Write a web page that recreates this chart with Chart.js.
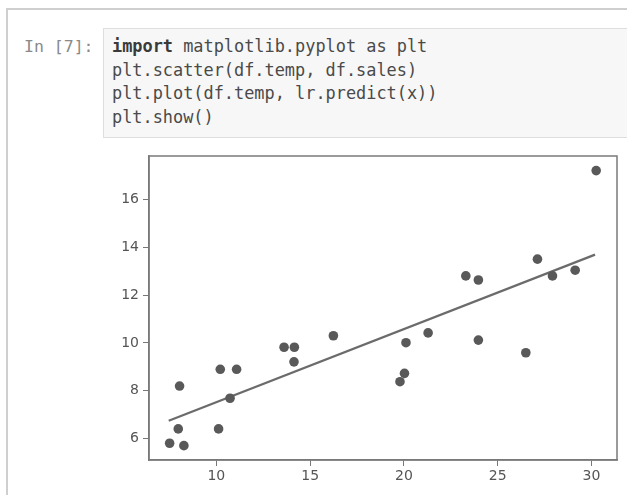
<!DOCTYPE html>
<html>
<head>
<meta charset="utf-8">
<script src="https://cdn.jsdelivr.net/npm/chart.js@4/dist/chart.umd.min.js"></script>
<style>
  html, body { margin:0; padding:0; width:627px; height:495px; background:#fff; overflow:hidden; }
  #frame { position:absolute; left:6px; top:8px; width:640px; height:500px; border-left:2px solid #cfcfcf; border-top:2px solid #cfcfcf; box-sizing:border-box; }
  #prompt { position:absolute; left:24px; top:35px; font-family:"DejaVu Sans Mono", monospace; font-size:16.5px; line-height:23.5px; color:#8a8a8a; }
  #cell { position:absolute; left:103px; top:28px; width:600px; height:110px; background:#f7f7f7; border:1px solid #dedede; box-sizing:border-box; }
  #code { position:absolute; left:112px; top:35px; margin:0; font-family:"DejaVu Sans Mono", monospace; font-size:16.9px; line-height:23.5px; color:#4a4a4a; white-space:pre; }
  #code b { font-weight:bold; color:#3a3a3a; }
  #wrap { position:absolute; left:0; top:0; width:627px; height:495px; }
</style>
</head>
<body>
<div id="frame"></div>
<div id="cell"></div>
<div id="prompt">In [7]:</div>
<pre id="code"><b>import</b> matplotlib.pyplot as plt
plt.scatter(df.temp, df.sales)
plt.plot(df.temp, lr.predict(x))
plt.show()</pre>
<div id="wrap"><canvas id="c" width="627" height="495"></canvas></div>
<script>
// Data
const temps = [7.51, 8.27, 7.97, 8.04, 10.12, 10.21, 10.73, 11.08, 13.61, 14.16, 14.14, 16.24,
               19.79, 20.03, 20.11, 21.29, 23.30, 23.97, 23.97, 26.50, 27.12, 27.92, 29.13, 30.25];
const sales = [5.81, 5.71, 6.41, 8.20, 6.41, 8.90, 7.69, 8.90, 9.82, 9.82, 9.21, 10.30,
               8.38, 8.73, 10.01, 10.42, 12.80, 12.63, 10.12, 9.59, 13.50, 12.80, 13.04, 17.20];
const lineTemps = [7.46, 30.19];
const linePred  = [6.75, 13.69];
const xTicks = [10, 15, 20, 25, 30];
const yTicks = [6, 8, 10, 12, 14, 16];

const scatterPts = temps.map((t, i) => ({x: t, y: sales[i]}));
const linePts = lineTemps.map((t, i) => ({x: t, y: linePred[i]}));

const boxPlugin = {
  id: 'box',
  afterDraw(chart) {
    const a = chart.chartArea, ctx = chart.ctx;
    ctx.save();
    ctx.strokeStyle = '#7a7a7a';
    ctx.lineWidth = 1.5;
    ctx.strokeRect(a.left, a.top, a.right - a.left, a.bottom - a.top);
    ctx.restore();
  }
};

const tickFont = {family: '"DejaVu Sans", sans-serif', size: 14};

new Chart(document.getElementById('c'), {
  type: 'scatter',
  data: {
    datasets: [
      { type: 'line', data: linePts, borderColor: '#6b6b6b', borderWidth: 2.2, pointRadius: 0, fill: false, order: 1 },
      { data: scatterPts, backgroundColor: '#595959', borderColor: '#595959', borderWidth: 0, pointRadius: 4.8, order: 0 }
    ]
  },
  options: {
    responsive: false,
    animation: false,
    events: [],
    layout: { padding: { left: 100, top: 156, right: 10, bottom: 0 } },
    plugins: { legend: { display: false }, tooltip: { enabled: false } },
    scales: {
      x: {
        type: 'linear', min: 6.41, max: 31.36,
        afterBuildTicks: s => { s.ticks = xTicks.map(v => ({value: v})); },
        afterFit: s => { s.height = 35; },
        grid: { display: true, drawOnChartArea: false, drawTicks: true, tickLength: 6, tickColor: '#777', tickWidth: 1 },
        border: { display: true, color: '#7a7a7a', width: 1.5 },
        ticks: { color: '#555', font: tickFont, padding: 2, maxRotation: 0, callback: v => String(v) }
      },
      y: {
        type: 'linear', min: 5.11, max: 17.81,
        afterBuildTicks: s => { s.ticks = yTicks.map(v => ({value: v})); },
        afterFit: s => { s.width = 49; },
        grid: { display: true, drawOnChartArea: false, drawTicks: true, tickLength: 6, tickColor: '#777', tickWidth: 1 },
        border: { display: true, color: '#7a7a7a', width: 1.5 },
        ticks: { color: '#555', font: tickFont, padding: 4, callback: v => String(v) }
      }
    }
  },
  plugins: [boxPlugin]
});
</script>
</body>
</html>
